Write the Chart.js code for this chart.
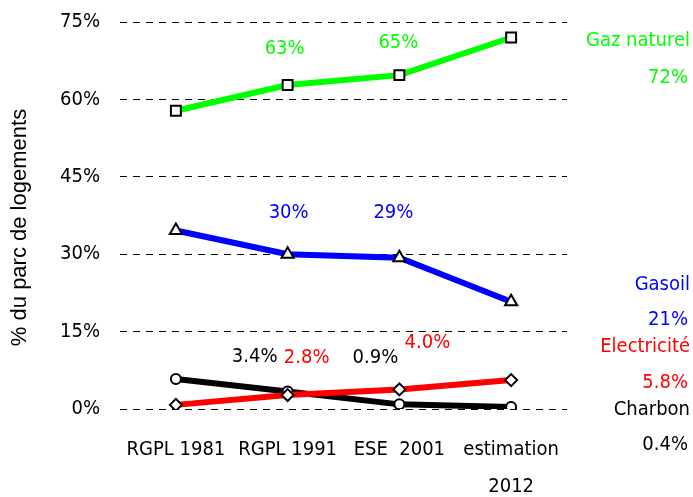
<!DOCTYPE html>
<html>
<head>
<meta charset="utf-8">
<script src="https://cdn.jsdelivr.net/npm/chart.js@4"></script>
<style>
  html, body { margin: 0; padding: 0; background: #fff; }
  #wrap { width: 693px; height: 497px; }
</style>
</head>
<body>
<div id="wrap"><canvas id="chart"></canvas></div>
<script>
/* Chart data */
const categories = ['RGPL 1981', 'RGPL 1991', 'ESE  2001', ['estimation', '2012']];
const gazNaturel = [57.8, 62.8, 64.7, 72.0];
const gasoil = [34.6, 30.0, 29.3, 20.8];
const electricite = [0.8, 2.7, 3.8, 5.6];
const charbon = [5.8, 3.4, 0.9, 0.4];
const yTicks = [0, 15, 30, 45, 60, 75];
const yTitle = '% du parc de logements';

// value labels shown near points (null = no label)
const gazLabels = [null, '63%', '65%', '72%'];
const gasoilLabels = [null, '30%', '29%', '21%'];
const elecLabels = [null, '2.8%', '4.0%', '5.8%'];
const charbonLabels = [null, '3.4%', '0.9%', '0.4%'];
const seriesNames = ['Gaz naturel', 'Gasoil', 'Electricité', 'Charbon'];

const FONT = "'DejaVu Sans Condensed', 'DejaVu Sans', sans-serif";
const FONT_SIZE = 20;

// label offsets (px) from each point, per series: [dx, dy] for each index
const labelOffsets = [
  [null, [-3, -36], [-1, -32], null],
  [null, [1, -41], [-6, -45], null],
  [null, [19, -37], [28, -47], null],
  [null, [-33, -35], [-24, -47], null]
];
// right-hand side: series name and final value, [dy name, dy value] from last point
const sideOffsets = [[3, 40], [-17, 18], [-33, 3], [3, 38]];

const allLabels = [gazLabels, gasoilLabels, elecLabels, charbonLabels];

/* Plugin that writes the value labels, the series names and the y title */
const labelPlugin = {
  id: 'labels',
  afterDatasetsDraw(chart) {
    const ctx = chart.ctx;
    const xs = chart.scales.x, ys = chart.scales.y;
    const area = chart.chartArea;
    ctx.save();
    ctx.font = FONT_SIZE + 'px ' + FONT;
    ctx.textBaseline = 'middle';
    chart.data.datasets.forEach((ds, i) => {
      ctx.fillStyle = ds.borderColor;
      const labels = allLabels[i];
      labels.forEach((txt, j) => {
        const off = labelOffsets[i][j];
        if (!txt || !off) return;
        ctx.textAlign = 'center';
        ctx.fillText(txt, xs.getPixelForValue(j) + off[0], ys.getPixelForValue(ds.data[j]) + off[1]);
      });
      // name + last value at the right edge
      const last = ds.data.length - 1;
      const py = ys.getPixelForValue(ds.data[last]);
      ctx.textAlign = 'right';
      ctx.fillText(seriesNames[i], chart.width - 3, py + sideOffsets[i][0]);
      ctx.fillText(labels[last], chart.width - 5, py + sideOffsets[i][1]);
    });

    // y axis title, a little below the middle of the plot like the original
    ctx.translate(20, (area.top + area.bottom) / 2 + 12);
    ctx.rotate(-Math.PI / 2);
    ctx.textAlign = 'center';
    ctx.fillStyle = '#000';
    ctx.font = "22px 'Liberation Sans', Arial, sans-serif";
    ctx.fillText(yTitle, 0, 0);
    ctx.restore();
  }
};

function series(label, data, color, style, radius) {
  return {
    label: label,
    data: data,
    borderColor: color,
    backgroundColor: color,
    borderWidth: 6,
    pointStyle: style,
    pointRadius: radius,
    pointBackgroundColor: '#fff',
    pointBorderColor: '#000',
    pointBorderWidth: 2,
    tension: 0
  };
}

new Chart(document.getElementById('chart'), {
  type: 'line',
  data: {
    labels: categories,
    datasets: [
      series(seriesNames[0], gazNaturel, '#00ff00', 'rect', 7),
      series(seriesNames[1], gasoil, '#0000ff', 'triangle', 7),
      series(seriesNames[2], electricite, '#ff0000', 'rectRot', 6),
      series(seriesNames[3], charbon, '#000000', 'circle', 5)
    ]
  },
  options: {
    responsive: true,
    maintainAspectRatio: false,
    animation: false,
    layout: { padding: { top: 22, right: 126, bottom: 0, left: 0 } },
    plugins: {
      legend: { display: false },
      tooltip: { enabled: false }
    },
    scales: {
      x: {
        offset: true,
        grid: { display: false, drawTicks: false },
        border: { display: false },
        ticks: {
          color: '#000',
          padding: 22,
          maxRotation: 0,
          autoSkip: false,
          font: { family: FONT, size: FONT_SIZE, lineHeight: 1.85 }
        },
        afterFit(scale) { scale.height = 88; }
      },
      y: {
        min: 0,
        max: 75,
        afterBuildTicks(scale) { scale.ticks = yTicks.map(v => ({ value: v })); },
        grid: { color: '#000', lineWidth: 1, drawTicks: false },
        border: { display: false, dash: [7, 6] },
        ticks: {
          color: '#000',
          padding: 20,
          font: { family: FONT, size: FONT_SIZE },
          callback: v => v + '%'
        },
        afterFit(scale) {
          scale.width = 120;
          scale.paddingTop = 0;
          scale.paddingBottom = 0;
        }
      }
    }
  },
  plugins: [labelPlugin]
});
</script>
</body>
</html>
